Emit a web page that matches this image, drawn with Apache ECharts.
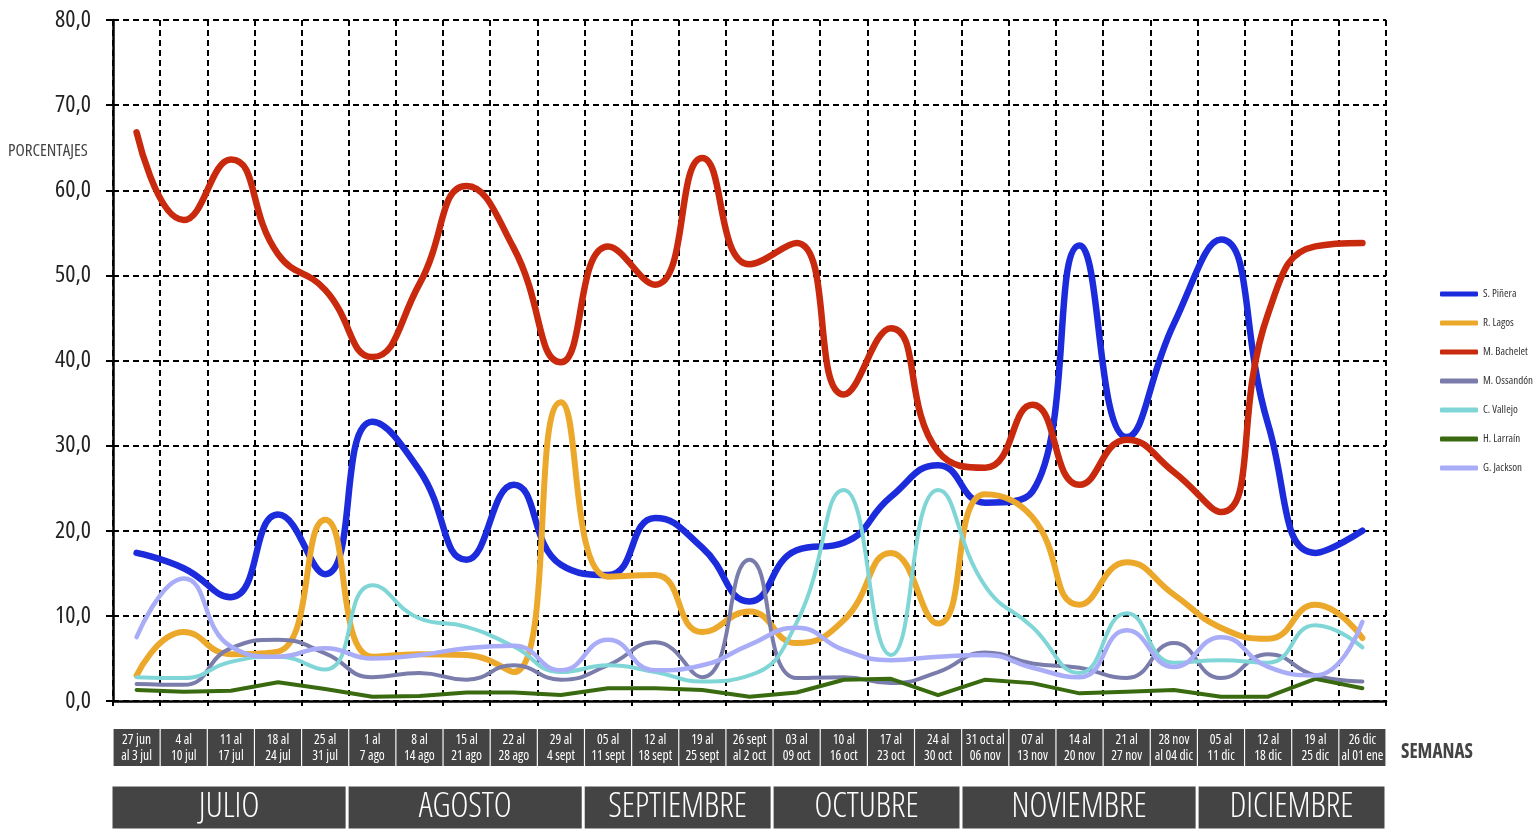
<!DOCTYPE html>
<html>
<head>
<meta charset="utf-8">
<script src="https://cdn.jsdelivr.net/npm/echarts@6/dist/echarts.min.js"></script>
<style>
html,body{margin:0;padding:0;background:#fff;}
#chart{width:1539px;height:830px;}
</style>
</head>
<body>
<div id="chart"></div>
<script>
// ---- data ----
const weeks = ["27 jun\nal 3 jul","4 al\n10 jul","11 al\n17 jul","18 al\n24 jul","25 al\n31 jul",
  "1 al\n7 ago","8 al\n14 ago","15 al\n21 ago","22 al\n28 ago","29 al\n4 sept",
  "05 al\n11 sept","12 al\n18 sept","19 al\n25 sept","26 sept\nal 2 oct",
  "03 al\n09 oct","10 al\n16 oct","17 al\n23 oct","24 al\n30 oct",
  "31 oct al\n06 nov","07 al\n13 nov","14 al\n20 nov","21 al\n27 nov","28 nov\nal 04 dic",
  "05 al\n11 dic","12 al\n18 dic","19 al\n25 dic","26 dic\nal 01 ene"];
const pinera   = [17.4,15.6,12.2,21.9,14.9,32.8,27.1,16.6,25.4,16.0,14.8,21.5,18.0,11.7,17.7,18.6,24.0,27.7,23.3,24.6,53.5,31.0,44.3,54.2,32.5,17.4,20.0];
const lagos    = [3.0,8.1,5.5,5.8,21.3,5.2,5.5,5.4,3.4,35.1,14.6,14.8,8.1,10.5,6.8,9.5,17.4,9.1,24.3,21.6,11.3,16.3,12.5,8.6,7.3,11.3,7.4];
const bachelet = [66.8,56.5,63.6,52.5,48.3,40.4,49.0,60.5,53.2,39.8,53.4,48.9,63.8,51.3,53.8,36.0,43.8,29.3,27.4,34.8,25.4,30.7,26.9,22.2,45.5,53.4,53.8];
const ossandon = [2.0,1.9,6.2,7.2,5.6,2.8,3.3,2.5,4.2,2.5,4.2,6.9,2.8,16.6,2.7,2.8,2.1,3.4,5.7,4.4,3.9,2.7,6.8,2.7,5.5,3.0,2.3];
const vallejo  = [2.8,2.7,4.6,5.2,3.7,13.6,9.7,8.7,6.4,3.4,4.2,3.4,2.3,3.0,9.2,24.8,5.4,24.8,13.5,8.7,3.3,10.3,4.5,4.8,4.5,8.9,6.3];
const larrain  = [1.3,1.1,1.2,2.2,1.4,0.5,0.6,1.0,1.0,0.7,1.5,1.5,1.3,0.5,1.0,2.5,2.6,0.7,2.5,2.1,0.9,1.1,1.3,0.5,0.5,2.6,1.5];
const jackson  = [7.5,14.4,6.4,5.2,6.2,5.0,5.4,6.2,6.5,3.6,7.2,3.6,4.2,6.6,8.6,6.0,4.8,5.2,5.4,3.9,2.8,8.3,4.0,7.5,4.0,3.0,9.3];
const seriesNames = ["S. Piñera","R. Lagos","M. Bachelet","M. Ossandón","C. Vallejo","H. Larraín","G. Jackson"];
const months = ["JULIO","AGOSTO","SEPTIEMBRE","OCTUBRE","NOVIEMBRE","DICIEMBRE"];
const monthWeeks = [5,5,4,4,5,4];
const yTicks = {min:0, max:80, interval:10};

// ---- font selection: narrowest installed condensed face ----
const ctx = document.createElement('canvas').getContext('2d');
function fontStr(f, weight, size){ return f.st + ' ' + weight + ' ' + size + 'px ' + f.fam; }
const candidates = [
  {st:'normal', fam:'"Liberation Sans Narrow", monospace'},
  {st:'normal', fam:'"Roboto Condensed", monospace'},
  {st:'normal', fam:'"Open Sans Condensed", monospace'},
  {st:'normal', fam:'"Noto Sans Condensed", monospace'},
  {st:'condensed', fam:'"Open Sans", monospace'},
  {st:'condensed', fam:'"Noto Sans", monospace'},
  {st:'condensed', fam:'Roboto, monospace'},
  {st:'normal', fam:'"DejaVu Sans Condensed", monospace'},
  {st:'condensed', fam:'"DejaVu Sans", monospace'}
];
let F = {st:'normal', fam:'"DejaVu Sans Condensed", sans-serif'}, bestW = 1e9;
candidates.forEach(f => {
  ctx.font = '100px monospace';
  const base = ctx.font;
  ctx.font = fontStr(f, 'normal', 100);
  if (ctx.font === base) return;
  const w = ctx.measureText('PORCENTAJES 80,0 Ossandón').width;
  if (w < bestW) { bestW = w; F = f; }
});
F = {st:F.st, fam:F.fam.replace('monospace','sans-serif')};
function measure(text, weight, size){ ctx.font = fontStr(F, weight, size); return ctx.measureText(text).width; }
function fit(texts, weight, targetW, maxSize){
  let w = 0; texts.forEach(t => { w = Math.max(w, measure(t, weight, 100)); });
  return Math.min(maxSize, Math.floor(targetW * 100 / w * 2) / 2);
}
const xLabelSize = fit(weeks.join('\n').split('\n'), 'normal', 43, 15);
const yLabelSize = fit(['80,0'], 'normal', 36, 24);
const legendSize = fit(['M. Ossandón'], 'normal', 52, 13);
const monthSize  = fit(['SEPTIEMBRE'], 'normal', 174, 34);
const semSize = 22, porcSize = 17;
const semScale = Math.min(1, 72 / measure('SEMANAS', 'bold', semSize));
const porcScale = Math.min(1, 96 / measure('PORCENTAJES', 'normal', porcSize));

// ---- styles ----
const colors = ["#1c2bdc","#eca82a","#c9290d","#7a7dab","#80d6d6","#3a6a10","#a9acf7"];
const widths = [6.5,6,6.5,4,4,4,4.5];
const values = [pinera,lagos,bachelet,ossandon,vallejo,larrain,jackson];

const lineSeries = seriesNames.map((n,i)=>({
  name:n, type:'line', data:values[i], xAxisIndex:0, yAxisIndex:0,
  smooth: i===5 ? false : 0.5, showSymbol:false, symbol:'none',
  lineStyle:{color:colors[i], width:widths[i], cap:'round', join:'round'},
  itemStyle:{color:colors[i]}, z: 3
}));

const monthSeries = months.map((m,i)=>({
  name:m, type:'bar', stack:'months', xAxisIndex:1, yAxisIndex:1,
  data:[monthWeeks[i]], barWidth:'100%',
  itemStyle:{color:'#444444', borderColor:'#ffffff', borderWidth:1.5},
  label:{show:true, position:'inside', formatter:m, color:'#ffffff',
    fontStyle:F.st, fontFamily:F.fam, fontSize:monthSize, fontWeight:300}
}));

const chart = echarts.init(document.getElementById('chart'), null, {renderer:'canvas'});
chart.setOption({
  animation:false,
  backgroundColor:'#ffffff',
  grid:[
    {left:113, right:153, top:20, bottom:129},
    {left:111, right:153, top:785, height:45}
  ],
  legend:{
    data:seriesNames, orient:'vertical', left:1440, top:287, padding:0,
    icon:'roundRect', itemWidth:38, itemHeight:5, itemGap:15,
    textStyle:{fontStyle:F.st, fontFamily:F.fam, fontSize:legendSize, color:'#333', lineHeight:14}
  },
  xAxis:[
    {type:'category', gridIndex:0, data:weeks, boundaryGap:true,
     axisLine:{show:true, lineStyle:{color:'#000', width:2.5}},
     axisTick:{show:true, length:5, interval:0, lineStyle:{color:'#000', width:2}},
     splitLine:{show:true, interval:0, lineStyle:{color:'#000', width:2, type:[6,4]}},
     axisLabel:{interval:0, margin:28, color:'#ffffff', fontStyle:F.st, fontFamily:F.fam, fontSize:xLabelSize,
       lineHeight:16, backgroundColor:'#444444', width:42, height:32, padding:[3,2,2,2],
       align:'center', verticalAlign:'top'}
    },
    {type:'value', gridIndex:1, min:0, max:weeks.length, show:false}
  ],
  yAxis:[
    {type:'value', gridIndex:0, min:yTicks.min, max:yTicks.max, interval:yTicks.interval,
     axisLine:{show:true, lineStyle:{color:'#000', width:2.5}},
     axisTick:{show:true, length:7, lineStyle:{color:'#000', width:2}},
     splitLine:{show:true, lineStyle:{color:'#000', width:2, type:[6,4]}},
     axisLabel:{margin:22, color:'#222', fontStyle:F.st, fontFamily:F.fam, fontSize:yLabelSize,
       formatter:v=>v.toFixed(1).replace('.',',')}
    },
    {type:'category', gridIndex:1, data:['m'], show:false}
  ],
  graphic:[
    {type:'text', x:8, y:151, scaleX:porcScale, style:{text:'PORCENTAJES', font:fontStr(F,'normal',porcSize),
      fill:'#444', textVerticalAlign:'middle', verticalAlign:'middle'}},
    {type:'text', x:1401, y:752, scaleX:semScale, style:{text:'SEMANAS', font:fontStr(F,'bold',semSize),
      fill:'#444', textVerticalAlign:'middle', verticalAlign:'middle'}}
  ],
  series: lineSeries.concat(monthSeries)
});
</script>
</body>
</html>
